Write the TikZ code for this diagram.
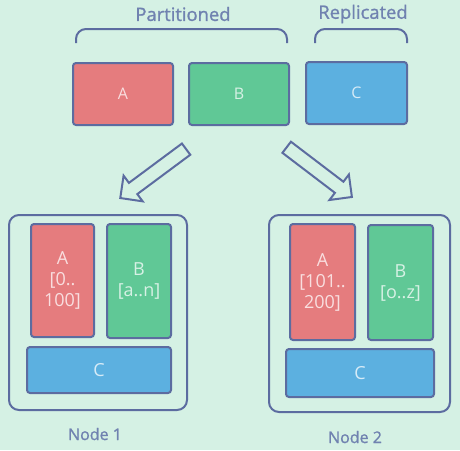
\documentclass[tikz,border=0pt]{standalone}
\usepackage{fontspec}
\setmainfont{Open Sans}
\newfontfamily\captionfont[FakeBold=1.2]{Open Sans}
\usetikzlibrary{calc}
\usetikzlibrary{shapes.arrows}
\definecolor{slide}{RGB}{213,241,228}
\definecolor{redpart}{RGB}{229,124,126}
\definecolor{greenpart}{RGB}{96,200,150}
\definecolor{bluepart}{RGB}{92,176,224}
\definecolor{ink}{RGB}{92,108,160}
\definecolor{caption}{RGB}{112,130,176}

\begin{document}
\begin{tikzpicture}[x=0.5pt, y=-0.5pt,
    part/.style={rectangle, draw=ink, line width=1pt, rounded corners=1.5pt, inner sep=0pt, align=center},
    toppart/.style={part, minimum width=50pt, minimum height=31pt, font=\fontsize{8}{9}\selectfont},
    nodepart/.style={part, font=\fontsize{9}{10.5}\selectfont},
    server/.style={rectangle, draw=ink, line width=1pt, rounded corners=5pt},
    brace/.style={draw=ink, line width=1pt, rounded corners=5pt},
    caption/.style={text=caption, font=\captionfont\fontsize{9.2}{10}\selectfont},
    blockarrow/.style={single arrow, draw=ink, fill=slide, line width=1pt, inner xsep=0pt, inner ysep=3pt,
      minimum width=0pt, minimum height=41pt, single arrow head extend=4.5pt, single arrow tip angle=90}]

	\fill[slide] (0,0) rectangle (460,450);
	\useasboundingbox (0,0) rectangle (460,450);

	% table parts
	\node[toppart, fill=redpart, text=redpart!25!white] (pa) at (123,94) {A};
	\node[toppart, fill=greenpart, text=greenpart!25!white] (pb) at (239,94) {B};
	\node[toppart, fill=bluepart, minimum width=50.5pt, text=bluepart!25!white] (pc) at (356.5,93) {C};

	% braces
	\draw[brace] (76,43) |- (181,29) -| (287,43);
	\draw[brace] (315,43) |- (361,29) -| (407,43);
	\node[caption] (part) at (183,14) {Partitioned};
	\node[caption] (repl) at (363,14) {Replicated};

	% arrows
	\coordinate (t1) at (189,147);
	\coordinate (h1) at (123,196);
	\coordinate (t2) at (285,146);
	\coordinate (h2) at (348,194);
	\node[blockarrow, rotate=216.6] (ar1) at ($(t1)!0.5!(h1)$) {};
	\node[blockarrow, rotate=-37.3] (ar2) at ($(t2)!0.5!(h2)$) {};

	% node 1
	\node[server, minimum width=89pt, minimum height=97.5pt] (s1) at (98,312.5) {};
	\node[nodepart, fill=redpart, text=redpart!25!white, minimum width=31.5pt, minimum height=56.5pt] (a1) at (62.5,280.5) {A\\{[}0..\\100{]}};
	\node[nodepart, fill=greenpart, text=greenpart!25!white, minimum width=32pt, minimum height=57pt] (b1) at (139,281) {B\\{[}a..n{]}};
	\node[nodepart, fill=bluepart, text=bluepart!25!white, minimum width=72pt, minimum height=23pt] (c1) at (99,370) {C};
	\node[caption, font=\captionfont\fontsize{8}{9}\selectfont] (n1) at (95,434) {Node 1};

	% node 2
	\node[server, minimum width=90.5pt, minimum height=98.5pt] (s2) at (359.5,313.5) {};
	\node[nodepart, fill=redpart, text=redpart!25!white, minimum width=32.5pt, minimum height=58pt] (a2) at (322.5,282) {A\\{[}101..\\200{]}};
	\node[nodepart, fill=greenpart, text=greenpart!25!white, minimum width=32.5pt, minimum height=57.5pt] (b2) at (400.5,282.5) {B\\{[}o..z{]}};
	\node[nodepart, fill=bluepart, text=bluepart!25!white, minimum width=74pt, minimum height=24pt] (c2) at (360,373) {C};
	\node[caption, font=\captionfont\fontsize{8}{9}\selectfont] (n2) at (355,437) {Node 2};
\end{tikzpicture}
\end{document}
